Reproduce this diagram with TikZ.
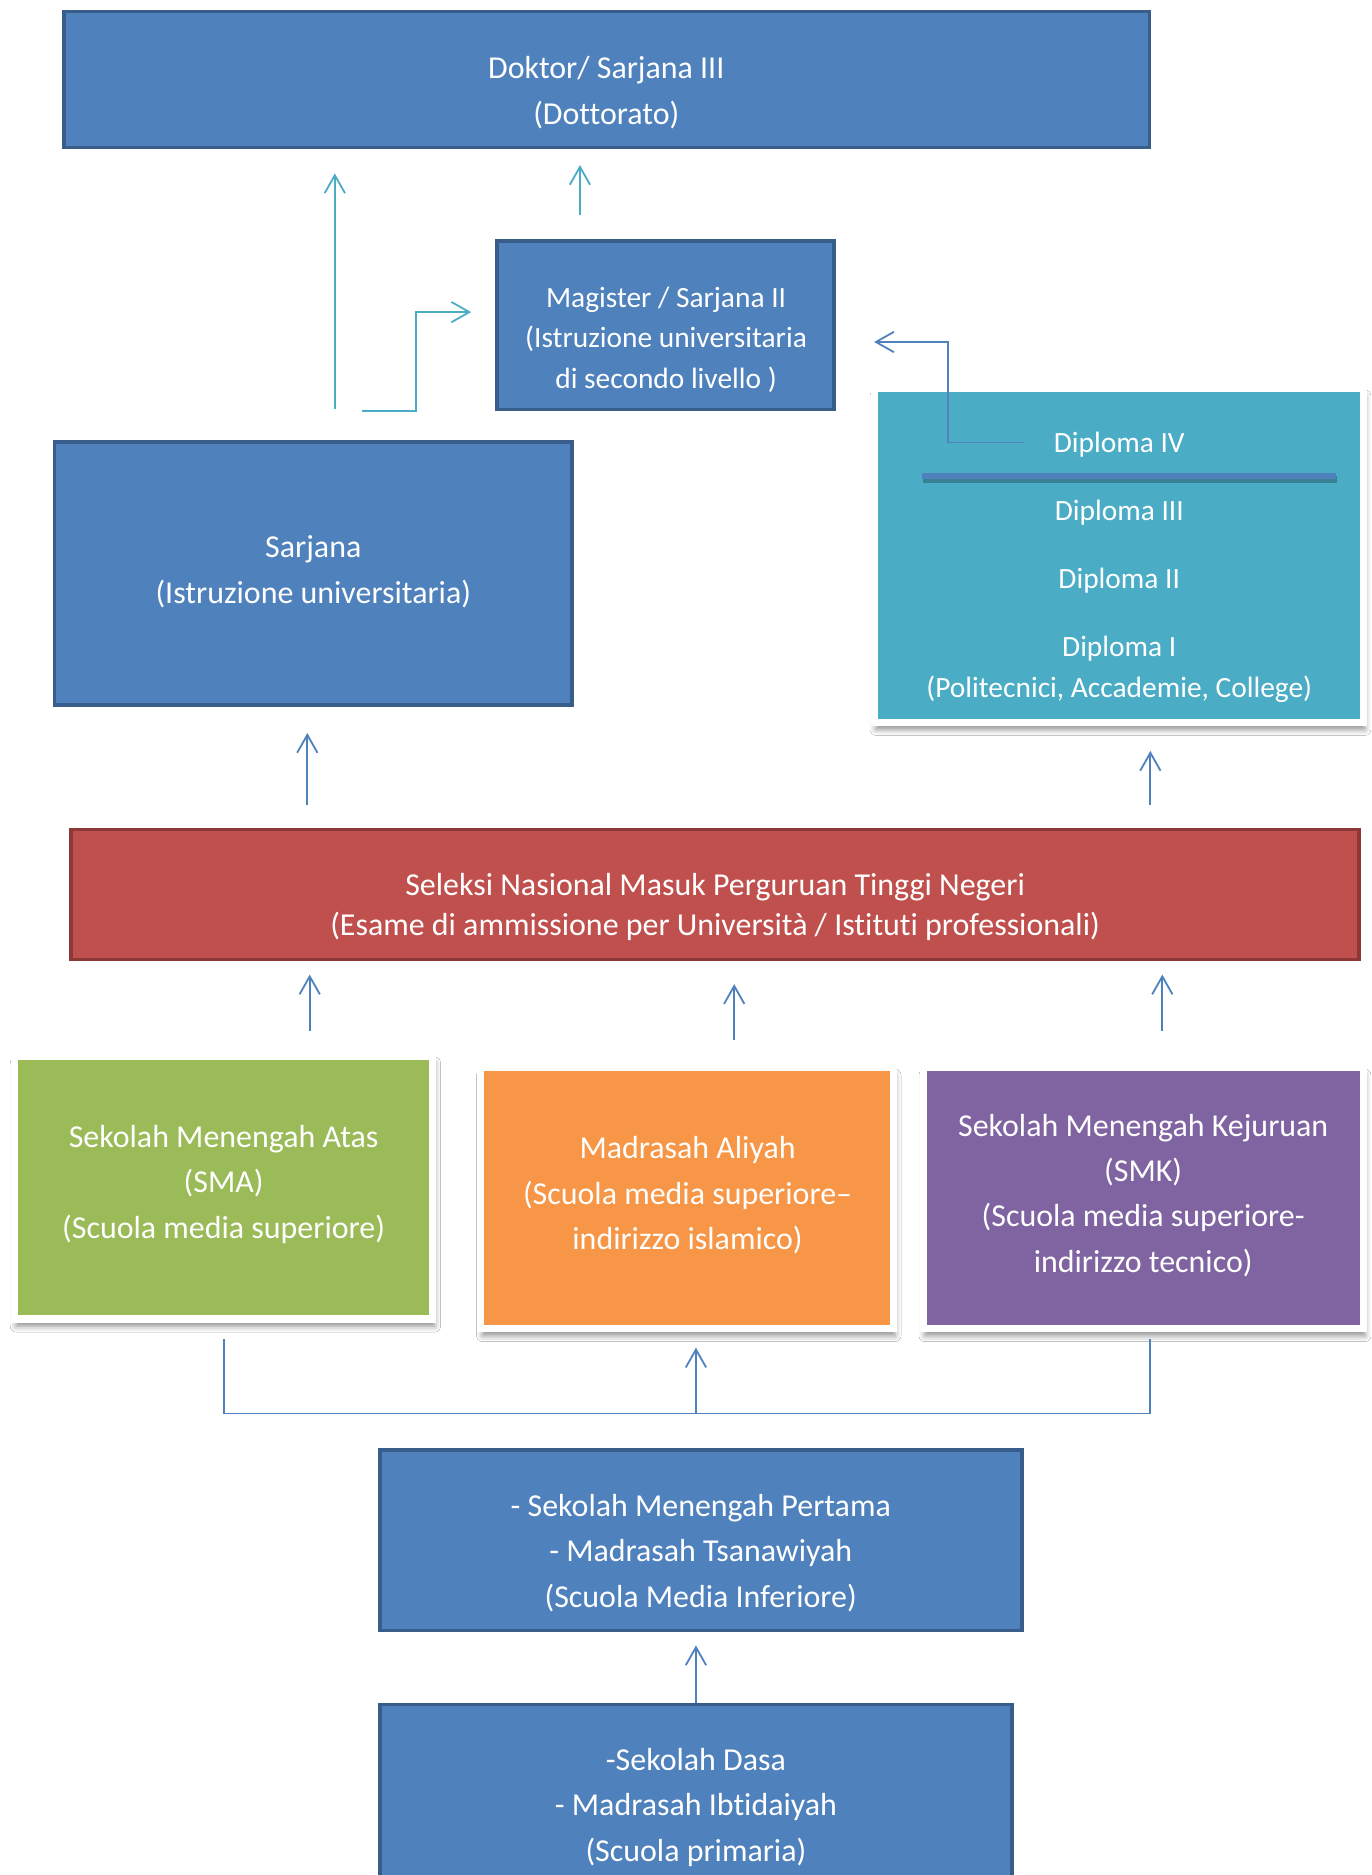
\documentclass[tikz,border=0pt]{standalone}
\usepackage{fontspec}
\setmainfont{Carlito}[Ligatures=NoCommon]
\usepackage{tikz}
\usetikzlibrary{arrows.meta,shadows.blur}

\definecolor{boxblue}{HTML}{4F81BD}
\definecolor{edgeblue}{HTML}{385D8A}
\definecolor{boxred}{HTML}{C0504D}
\definecolor{edgered}{HTML}{8C3836}
\definecolor{boxgreen}{HTML}{9BBB59}
\definecolor{boxorange}{HTML}{F79646}
\definecolor{boxpurple}{HTML}{8064A2}
\definecolor{boxteal}{HTML}{4BACC6}

\begin{document}
\begin{tikzpicture}[x=0.02cm, y=-0.02cm,
  >={Straight Barb[length=0.3cm,width=0.34cm]},
  box/.style={rectangle, inner sep=0pt, fill=boxblue, draw=edgeblue, line width=0.06cm},
  framed/.style={rectangle, inner sep=0pt, draw=white, line width=0.12cm,
    blur shadow={shadow xshift=0.03cm, shadow yshift=-0.12cm, shadow blur radius=0.1cm, shadow opacity=45}},
  txt/.style={text=white, align=center, font=\fontsize{15.2}{21.6}\selectfont},
  small/.style={txt, font=\fontsize{14}{19.4}\selectfont},
  tealline/.style={draw=boxteal, line width=0.03cm},
  blueline/.style={draw=boxblue, line width=0.03cm}]
  \path[use as bounding box, fill=white] (0,0) rectangle (1147,1568);

  % boxes
  \node[box, minimum width=18.16cm, minimum height=2.28cm] (dok) at (507.5,66.5) {};
  \node[box, minimum width=5.64cm, minimum height=2.82cm] (mag) at (556.5,272) {};
  \node[box, minimum width=8.66cm, minimum height=4.4cm] (sar) at (262,479.5) {};
  \node[framed, fill=boxteal, minimum width=8.18cm, minimum height=5.58cm] (dip) at (935.5,464.5) {};
  \node[box, fill=boxred, draw=edgered, minimum width=21.54cm, minimum height=2.18cm] (sel) at (598,748) {};
  \node[framed, fill=boxgreen, minimum width=7cm, minimum height=4.4cm] (sma) at (187,993) {};
  \node[framed, fill=boxorange, minimum width=6.9cm, minimum height=4.36cm] (ma) at (574.5,1002) {};
  \node[framed, fill=boxpurple, minimum width=7.36cm, minimum height=4.36cm] (smk) at (956,1002) {};
  \node[box, minimum width=10.74cm, minimum height=3.02cm] (smp) at (586,1288) {};
  \node[box, minimum width=10.58cm, minimum height=3.46cm] (sd) at (582,1512) {};

  % texts
  \node[txt] (doktxt) at (507,77.5) {Doktor/ Sarjana III\\(Dottorato)};
  \node[small] (magtxt) at (557,284) {Magister / Sarjana II\\(Istruzione universitaria\\di secondo livello )};
  \node[txt] (sartxt) at (262,478) {Sarjana\\(Istruzione universitaria)};
  \node[small] (d4) at (936,372) {Diploma IV};
  \node[small] (diptxt) at (936,503) {Diploma III\\[13pt]Diploma II\\[13pt]Diploma I\\(Politecnici, Accademie, College)};
  \node[txt, font=\fontsize{15.2}{19.4}\selectfont] (seltxt) at (598,758.5) {Seleksi Nasional Masuk Perguruan Tinggi Negeri\\(Esame di ammissione per Università / Istituti professionali)};
  \node[txt] (smatxt) at (187,990.5) {Sekolah Menengah Atas\\(SMA)\\(Scuola media superiore)};
  \node[txt] (matxt) at (575,999.5) {Madrasah Aliyah\\(Scuola media superiore–\\indirizzo islamico)};
  \node[txt] (smktxt) at (956,999.5) {Sekolah Menengah Kejuruan\\(SMK)\\(Scuola media superiore-\\indirizzo tecnico)};
  \node[txt] (smptxt) at (586,1298.5) {- Sekolah Menengah Pertama\\- Madrasah Tsanawiyah\\(Scuola Media Inferiore)};
  \node[txt] (sdtxt) at (582,1511.5) {-Sekolah Dasa\\- Madrasah Ibtidaiyah\\(Scuola primaria)};

  % divider in the diploma box
  \draw[black, opacity=0.25, line width=0.12cm] (772,401) -- (1118,401);
  \draw[boxblue, line width=0.1cm] (771,398) -- (1117,398);

  % free ends
  \coordinate (dokA) at (280,145);
  \coordinate (dokB) at (485,138);
  \coordinate (sarA) at (303,344);
  \coordinate (magA) at (394,261);
  \coordinate (d4A) at (856,370);
  \coordinate (magB) at (731,286);
  \coordinate (sarB) at (257,613);
  \coordinate (dipB) at (962,628);
  \coordinate (selA) at (259,815);
  \coordinate (selB) at (614,823);
  \coordinate (selC) at (972,815);
  \coordinate (smkB) at (962,1120);
  \coordinate (fork) at (582,1182);
  \coordinate (maA) at (582,1127);
  \coordinate (smpA) at (582,1376);

  \draw[tealline, ->, shorten <=0.52cm] (sar.north -| dokA) -- (dokA);
  \draw[tealline, ->, shorten <=0.4cm] (mag.north -| dokB) -- (dokB);
  \draw[tealline, ->] (sarA) -- ++(45,0) |- (magA);
  \draw[blueline, ->] (d4A) -- ++(-63,0) |- (magB);
  \draw[blueline, ->, shorten <=0.38cm] (sel.north -| sarB) -- (sarB);
  \draw[blueline, ->, shorten <=0.38cm] (sel.north -| dipB) -- (dipB);
  \draw[blueline, ->, shorten <=0.36cm] (sma.north -| selA) -- (selA);
  \draw[blueline, ->, shorten <=0.4cm] (ma.north -| selB) -- (selB);
  \draw[blueline, ->, shorten <=0.56cm] (smk.north -| selC) -- (selC);
  \draw[blueline, shorten <=0.28cm] (sma.south) -- (sma.south |- fork) -| (smkB);
  \draw[blueline, ->] (fork) -- (maA);
  \draw[blueline, ->] (sd.north) -- (smpA);
\end{tikzpicture}
\end{document}
